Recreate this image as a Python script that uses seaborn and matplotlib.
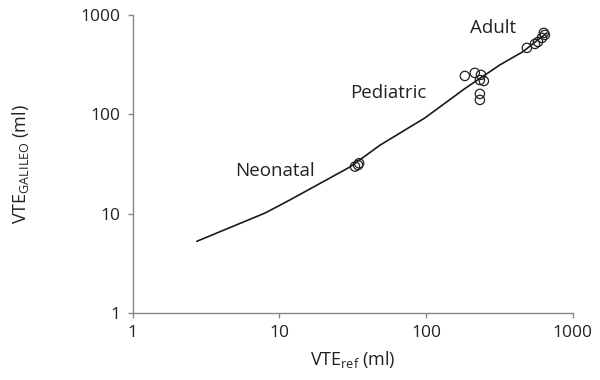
import numpy as np
import pandas as pd
import matplotlib
matplotlib.use("Agg")
import matplotlib.pyplot as plt
import seaborn as sns

# Fitted curve (VTE_ref vs VTE_GALILEO)
curve_x = [2.74, 8.0, 11.8, 30.3, 48.5, 98, 184, 319, 458, 667]
curve_y = [5.3, 10.2, 13.8, 29.6, 49, 92, 182, 315, 428, 661]

# Measured points
neo_x = [32.8, 34.4, 35.0]
neo_y = [29.9, 31.0, 32.3]
ped_x = [184, 215, 237, 233, 248, 233, 233]
ped_y = [244, 262, 250, 222, 217, 161, 140]
adult_x = [487, 553, 580, 617, 646, 636]
adult_y = [467, 512, 536, 589, 631, 661]

group_labels = ["Neonatal", "Pediatric", "Adult"]

x_ticks = [1, 10, 100, 1000]
y_ticks = [1, 10, 100, 1000]

sns.set_style("white")
plt.rcParams['font.family'] = ['Open Sans', 'DejaVu Sans']
plt.rcParams['mathtext.fontset'] = 'custom'
plt.rcParams['mathtext.rm'] = 'Open Sans'

fig = plt.figure(figsize=(6, 3.8), dpi=100)
ax = fig.add_axes([0.221, 0.1755, 0.7335, 0.785])

curve = pd.DataFrame({"x": curve_x, "y": curve_y})
pts = pd.DataFrame({"x": neo_x + ped_x + adult_x, "y": neo_y + ped_y + adult_y})

sns.lineplot(data=curve, x="x", y="y", ax=ax, color="#1a1a1a", linewidth=1.2)
sns.scatterplot(data=pts, x="x", y="y", ax=ax, s=45, facecolor="none",
                edgecolor="#222222", linewidth=0.9, zorder=3)

ax.set_xscale("log")
ax.set_yscale("log")
ax.set_xlim(1, 1000)
ax.set_ylim(1, 1000)
ax.set_xticks(x_ticks)
ax.set_xticklabels([str(t) for t in x_ticks])
ax.set_yticks(y_ticks)
ax.set_yticklabels([str(t) for t in y_ticks])
ax.minorticks_off()

for s in ["top", "right"]:
    ax.spines[s].set_visible(False)
for s in ["left", "bottom"]:
    ax.spines[s].set_color("#888888")
    ax.spines[s].set_linewidth(1.0)
ax.tick_params(axis="both", which="major", direction="out", length=3.5, width=1,
               color="#888888", labelsize=12.5, labelcolor="#222222", pad=5, left=True, bottom=True)

ax.set_xlabel(r"VTE$_{\mathregular{ref}}$ (ml)", fontsize=13, color="#222222", labelpad=6)
ax.set_ylabel(r"VTE$_{\mathregular{GALILEO}}$ (ml)", fontsize=13, color="#222222", labelpad=36)

label_px = [(275, 171), (388, 93), (493, 28)]
for lbl, (px, py) in zip(group_labels, label_px):
    fig.text(px / 600, 1 - py / 380, lbl, fontsize=13.5, color="#222222",
             ha="center", va="center")

fig.savefig("out.png", dpi=100)
